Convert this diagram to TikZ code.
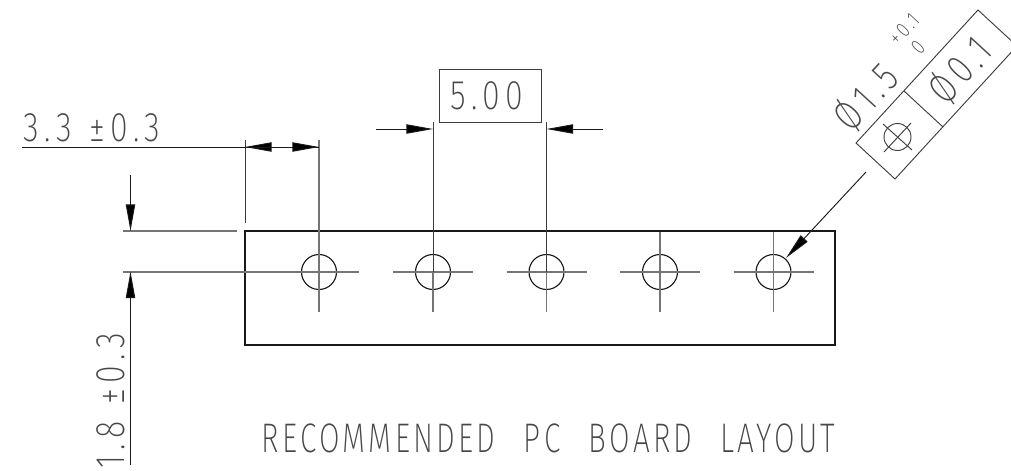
\documentclass[tikz,border=0pt]{standalone}
\usepackage{fontspec}
\setmainfont{Fira Sans ExtraLight}
\newfontfamily\cadfont[FakeStretch=0.72,LetterSpace=8,WordSpace=2.4]{Fira Sans ExtraLight}
\newfontfamily\dimfont[FakeStretch=0.78,LetterSpace=13,WordSpace=1.2]{Fira Sans ExtraLight}
\usetikzlibrary{arrows.meta}
\definecolor{ink}{gray}{0.1}
\tikzset{
  x=0.75pt,y=-0.75pt,
  thin line/.style={draw=ink!85,line width=0.7pt},
  center line/.style={draw=ink!60,line width=0.85pt},
  dimtip/.style={draw=ink,line width=0.7pt,-{Triangle[length=20pt,width=7pt,fill=black]}},
  titletext/.style={inner sep=0pt,outer sep=0pt,text=ink!80,anchor=center,font=\cadfont\fontsize{31}{32}\selectfont},
  cadtext/.style={inner sep=0pt,outer sep=0pt,text=ink!80,anchor=center,font=\dimfont\fontsize{31}{32}\selectfont},
  smalltext/.style={inner sep=0pt,outer sep=0pt,text=ink!80,anchor=center,font=\dimfont\fontsize{16}{17}\selectfont},
  hole/.style={circle,draw=ink,line width=0.85pt,minimum size=26.25pt,inner sep=0pt},
  valuebox/.style={rectangle,draw=ink!85,line width=0.7pt,minimum width=76.5pt,minimum height=39.75pt,inner sep=0pt,text=ink!80,font=\dimfont\fontsize{31}{32}\selectfont},
}
\begin{document}
\begin{tikzpicture}
\useasboundingbox (0,0) rectangle (1011,471);
\clip (0,0) rectangle (1011,471);
% board
\node[draw=ink,line width=0.9pt,minimum width=442.5pt,minimum height=85.5pt,inner sep=0pt] (board) at (540,288) {};
% holes
\foreach \n/\x in {a/319,b/433,c/546.5,d/660,e/773.5}{
  \node[hole] (\n) at (\x,272) {};
}
% centre lines
\draw[center line] (a.center) ++(0,40) -- ++(0,-172);
\draw[center line] (b.center) ++(0,40) -- ++(0,-40);
\draw[center line] (c.center) ++(0,40) -- ++(0,-40);
\draw[center line] (d.center) ++(0,40) -- ++(0,-80);
\draw[center line] (e.center) ++(0,40) -- ++(0,-80);
\draw[center line] (a.center) ++(40,0) -- (123,272);
\foreach \n in {b,c,d,e}{
  \draw[center line] (\n.center) ++(-40,0) -- ++(80,0);
}
% 5.00 dimension
\node[valuebox] (val) at (490,95.5) {5.00\kern 4.5pt};
\draw[thin line] (433,122) -- (b.center);
\draw[thin line] (546.5,122) -- (c.center);
\coordinate (dl) at (376,129); \coordinate (dlt) at (433,129);
\coordinate (dr) at (603,129); \coordinate (drt) at (546.5,129);
\draw[dimtip] (dl) -- (dlt);
\draw[dimtip] (dr) -- (drt);
% 3.3 dimension
\node[cadtext] (t33) at (92,127.5) {3.3 ±0.3};
\coordinate (h0) at (22,147); \coordinate (h1) at (245,147); \coordinate (h2) at (319,147);
\draw[thin line] (245,140) -- (245,223);
\draw[dimtip] (h2) -- (h1);
\draw[dimtip] (h0) -- (h2);
% 1.8 dimension
\node[cadtext,rotate=90] (t18) at (111,401) {1.8 ±0.3};
\draw[center line] (123,231) -- (237,231);
\coordinate (v0) at (130.5,175); \coordinate (v1) at (130.5,231);
\coordinate (v2) at (130.5,465); \coordinate (v3) at (130.5,271.5);
\draw[dimtip] (v0) -- (v1);
\draw[dimtip] (v2) -- (v3);
% feature control frame
\coordinate (f1) at (856,143); \coordinate (f2) at (978,10);
\coordinate (f3) at (1017,46); \coordinate (f4) at (895,179);
\coordinate (f5) at (904,91); \coordinate (f6) at (943,127);
\draw[thin line] (f1) -- (f2) -- (f3) -- (f4) -- cycle;
\draw[thin line] (f5) -- (f6);
\coordinate (sym) at (897.5,137);
\draw[thin line] (sym) circle[radius=13.5];
\draw[thin line] (883,124) -- (912,150);
\draw[thin line] (884,152) -- (911,123);
% texts in frame
\node[cadtext,rotate=47.5] (phi) at (960,70) {Ø0.1};
\node[cadtext,rotate=47.5] (dia) at (866,97) {Ø1.5};
\node[smalltext,rotate=47.5] (up) at (904,29) {+0.1};
\node[smalltext,rotate=47.5] (lo) at (918,47) {0};
% leader
\coordinate (ld) at (866,172); \coordinate (ldt) at (786,258);
\draw[dimtip] (ld) -- (ldt);
% title
\node[titletext] (title) at (548.5,438.5) {RECOMMENDED PC BOARD LAYOUT};
\end{tikzpicture}
\end{document}
